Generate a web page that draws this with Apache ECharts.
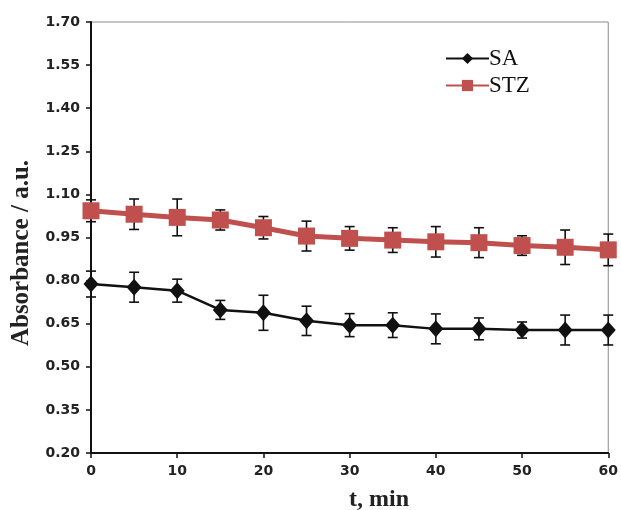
<!DOCTYPE html>
<html>
<head>
<meta charset="utf-8">
<script src="https://cdn.jsdelivr.net/npm/echarts@6/dist/echarts.min.js"></script>
<style>
  html, body { margin: 0; padding: 0; background: #fff; }
  #chart { width: 621px; height: 510px; }
</style>
</head>
<body>
<div id="chart"></div>
<script>
// Sampling times (min)
const times = [0, 5, 10, 15, 20, 25, 30, 35, 40, 45, 50, 55, 60];
// Absorbance, SA
const saValues = [0.788, 0.777, 0.765, 0.698, 0.688, 0.660, 0.645, 0.645, 0.632, 0.632, 0.628, 0.628, 0.628];
const saErrors = [0.045, 0.052, 0.040, 0.033, 0.061, 0.051, 0.040, 0.043, 0.052, 0.038, 0.028, 0.052, 0.052];
// Absorbance, STZ
const stzValues = [1.043, 1.031, 1.020, 1.011, 0.984, 0.955, 0.947, 0.941, 0.935, 0.932, 0.922, 0.916, 0.907];
const stzErrors = [0.038, 0.053, 0.064, 0.035, 0.039, 0.052, 0.041, 0.043, 0.053, 0.052, 0.034, 0.060, 0.055];
// Axis ticks
const xTicks = [0, 10, 20, 30, 40, 50, 60];
const yTicks = [0.20, 0.35, 0.50, 0.65, 0.80, 0.95, 1.10, 1.25, 1.40, 1.55, 1.70];

const chart = echarts.init(document.getElementById('chart'));

function errorBarSeries(values, errors) {
  const data = times.map((t, i) => [t, values[i] - errors[i], values[i] + errors[i]]);
  return {
    type: 'custom',
    z: 1,
    silent: true,
    clip: false,
    data: data,
    encode: { x: 0, y: [1, 2] },
    renderItem: function (params, api) {
      const x = api.value(0);
      const lo = api.coord([x, api.value(1)]);
      const hi = api.coord([x, api.value(2)]);
      const hw = 5;
      const style = { stroke: '#111', lineWidth: 1.6 };
      return {
        type: 'group',
        children: [
          { type: 'line', shape: { x1: lo[0], y1: lo[1], x2: hi[0], y2: hi[1] }, style: style },
          { type: 'line', shape: { x1: lo[0] - hw, y1: lo[1], x2: lo[0] + hw, y2: lo[1] }, style: style },
          { type: 'line', shape: { x1: hi[0] - hw, y1: hi[1], x2: hi[0] + hw, y2: hi[1] }, style: style }
        ]
      };
    }
  };
}

const labelFont = {
  fontFamily: '"DejaVu Sans", sans-serif',
  fontWeight: 'bold',
  fontSize: 14,
  color: '#222'
};
const serif = '"Liberation Serif", "Times New Roman", serif';

chart.setOption({
  animation: false,
  backgroundColor: '#fff',
  grid: {
    left: 91, right: 10, top: 22, bottom: 57,
    show: true, borderColor: '#8a8a8a', borderWidth: 1
  },
  graphic: [
    {
      type: 'text',
      x: 22, y: 253,
      rotation: Math.PI / 2,
      style: {
        text: 'Absorbance / a.u.',
        font: 'bold 25px ' + serif,
        fill: '#222',
        align: 'center',
        verticalAlign: 'middle'
      }
    },
    {
      type: 'text',
      x: 379, y: 500,
      style: {
        text: 't, min',
        font: 'bold 24px ' + serif,
        fill: '#222',
        align: 'center',
        verticalAlign: 'middle'
      }
    }
  ],
  legend: {
    orient: 'vertical',
    left: 440,
    top: 42,
    padding: 5,
    itemWidth: 43,
    itemHeight: 14,
    itemGap: 4,
    textStyle: {
      fontFamily: serif,
      fontSize: 23,
      lineHeight: 23,
      color: '#111',
      padding: [0, 0, 0, -5]
    },
    data: ['SA', 'STZ']
  },
  xAxis: {
    type: 'value',
    min: 0, max: 60,
    splitLine: { show: false },
    axisLine: { onZero: false, lineStyle: { color: '#111', width: 2 } },
    axisTick: { show: true, length: 5, customValues: xTicks, lineStyle: { color: '#111', width: 1.5 } },
    axisLabel: { customValues: xTicks, margin: 11, ...labelFont }
  },
  yAxis: {
    type: 'value',
    min: 0.2, max: 1.7,
    splitLine: { show: false },
    axisLine: { onZero: false, lineStyle: { color: '#111', width: 2 } },
    axisTick: { show: true, length: 5, customValues: yTicks, lineStyle: { color: '#111', width: 1.5 } },
    axisLabel: {
      customValues: yTicks,
      margin: 11,
      formatter: v => v.toFixed(2),
      ...labelFont
    }
  },
  series: [
    errorBarSeries(saValues, saErrors),
    errorBarSeries(stzValues, stzErrors),
    {
      name: 'SA',
      type: 'line',
      z: 3,
      clip: false,
      data: times.map((t, i) => [t, saValues[i]]),
      symbol: 'diamond',
      symbolSize: [15, 17],
      itemStyle: { color: '#111' },
      lineStyle: { color: '#111', width: 2.5 }
    },
    {
      name: 'STZ',
      type: 'line',
      z: 2,
      clip: false,
      data: times.map((t, i) => [t, stzValues[i]]),
      symbol: 'rect',
      symbolSize: 17,
      itemStyle: { color: '#c0504d' },
      lineStyle: { color: '#c0504d', width: 5 }
    }
  ]
});
</script>
</body>
</html>
